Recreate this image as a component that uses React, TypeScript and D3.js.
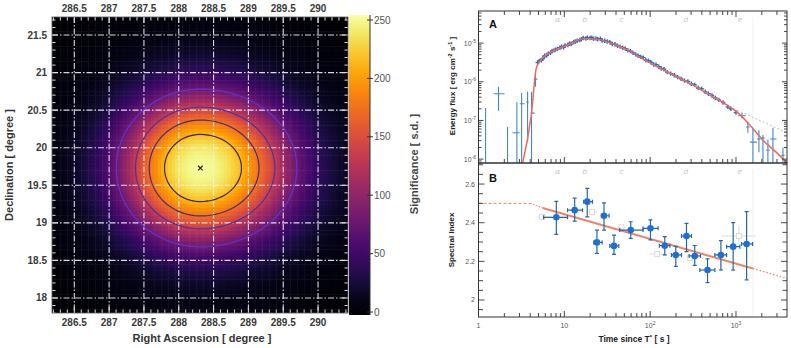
import { useEffect, useRef } from "react";
import * as d3 from "d3";

const FONT = '"Liberation Sans", Arial, Helvetica, sans-serif';

// ---- significance map ----
const raTicks = [286.5, 287, 287.5, 288, 288.5, 289, 289.5, 290];
const decTicks = [18, 18.5, 19, 19.5, 20, 20.5, 21, 21.5];
const sigTicks = [0, 50, 100, 150, 200, 250];
const peakRa = 288.31;
const peakDec = 19.73;
// radial significance profile: distance from peak [deg] -> s.d.
const profileR = [0, 0.1, 0.2, 0.3, 0.4, 0.5, 0.6, 0.7, 0.8, 0.9, 1.0, 1.1, 1.2, 1.3, 1.4, 1.5, 1.6, 1.7, 1.8, 2.0, 2.2, 2.5, 3.0];
const profileSig = [252, 250, 245, 236, 222, 203, 183, 162, 138, 110, 88, 68, 52, 40, 30, 22, 16, 12, 9, 6, 4, 2, 1];
const contourLevels = [78, 135, 175, 213];

// ---- light curve (panel A) ----
// [time, flux]
const denseFlux: [number, number][] = [
  [4.9, 3.16e-6], [5.1, 3.47e-6], [5.4, 3.6e-6], [5.6, 4.0e-6], [5.9, 4.7e-6], [6.2, 4.8e-6],
  [6.5, 5.4e-6], [6.9, 5.6e-6], [7.2, 6.3e-6], [7.6, 6.5e-6], [7.9, 6.8e-6], [8.3, 7.1e-6],
  [8.9, 7.6e-6], [9.3, 8.1e-6], [9.8, 7.8e-6], [10.2, 8.7e-6], [11.0, 8.9e-6], [11.5, 9.8e-6],
  [12.0, 9.5e-6], [12.9, 1.07e-5], [13.5, 1.1e-5], [14.1, 1.15e-5], [15.1, 1.2e-5], [15.8, 1.26e-5],
  [16.6, 1.35e-5], [17.8, 1.32e-5], [18.6, 1.38e-5], [20.0, 1.35e-5], [20.9, 1.38e-5], [21.9, 1.29e-5],
  [23.4, 1.32e-5], [24.5, 1.26e-5], [26.3, 1.29e-5], [27.5, 1.17e-5], [29.5, 1.15e-5], [31.6, 1.1e-5],
  [33.9, 1.05e-5], [36.3, 9.5e-6], [38.9, 9.3e-6], [41.7, 8.5e-6], [44.7, 8.1e-6], [47.9, 7.6e-6],
  [51.3, 7.2e-6], [55.0, 6.5e-6], [58.9, 6.2e-6], [63.1, 5.6e-6], [67.6, 5.1e-6], [72.4, 4.7e-6],
  [77.6, 4.4e-6], [83.2, 4.2e-6], [89.1, 3.6e-6], [95.5, 3.5e-6], [102, 3.2e-6], [110, 2.8e-6],
  [117, 2.75e-6], [126, 2.45e-6], [135, 2.2e-6], [145, 2.1e-6], [158, 1.78e-6], [174, 1.62e-6],
  [191, 1.48e-6], [209, 1.32e-6], [229, 1.2e-6], [251, 1.07e-6], [275, 1.02e-6], [302, 8.9e-7],
  [331, 8.3e-7], [363, 6.9e-7], [398, 6.6e-7], [437, 5.5e-7], [479, 4.9e-7], [525, 4.4e-7],
  [575, 3.8e-7], [631, 3.4e-7], [708, 2.9e-7], [804, 2.24e-7], [871, 2.0e-7], [1000, 1.6e-7],
];
// [time, flux, fluxLo, fluxHi, timeLo, timeHi]
const earlyFlux = [
  [1.21, 1e-9, 1e-9, 2.1e-7, 1.21, 1.21],
  [1.71, 4.9e-7, 1.78e-7, 7.4e-7, 1.5, 2.01],
  [2.18, 1e-9, 1e-9, 6.8e-8, 2.18, 2.18],
  [2.8, 4.8e-8, 1e-9, 3.0e-7, 2.49, 3.01],
  [3.18, 2.7e-7, 1e-9, 5.1e-7, 3.01, 3.44],
  [3.73, 3.0e-7, 2.75e-8, 5.5e-7, 3.6, 3.85],
  [4.15, 1.55e-7, 1e-9, 5.5e-7, 4.05, 4.5],
  [4.62, 1.17e-6, 7.4e-7, 1.48e-6, 4.62, 4.62],
];
const lateFlux = [
  [1172, 1.32e-7, 1.12e-7, 1.55e-7, 1060, 1300],
  [1376, 6.8e-8, 4.8e-8, 9.1e-8, 1376, 1376],
  [1575, 2.75e-8, 1e-9, 6.5e-8, 1450, 1750],
  [1850, 3.3e-8, 1.5e-8, 5.6e-8, 1850, 1850],
  [2060, 3.5e-8, 1e-9, 4.2e-8, 2060, 2060],
  [2355, 1.7e-8, 1e-9, 3.2e-8, 2355, 2355],
  [2695, 3.3e-8, 1e-9, 6.5e-8, 2500, 2960],
  [3525, 1.26e-8, 1e-9, 2.0e-8, 3525, 3525],
];
const modelT = [3.26, 4.12, 4.71, 5.15, 6.73, 9.55, 12.5, 16.4, 19.7, 25.8, 33.8, 53.3, 82, 129, 204, 314, 495, 783, 1024, 1452, 2060, 3000, 3927];
const modelF = [7.9e-9, 1.38e-7, 2.24e-6, 3.31e-6, 5.62e-6, 7.94e-6, 1.02e-5, 1.29e-5, 1.29e-5, 1.23e-5, 1.02e-5, 6.76e-6, 3.89e-6, 2.29e-6, 1.35e-6, 8.3e-7, 4.57e-7, 2.51e-7, 1.66e-7, 7.59e-8, 3.09e-8, 1.45e-8, 7.9e-9];
const powerLawT = [849, 3927];
const powerLawF = [2.24e-7, 4.8e-8];

// ---- spectral index (panel B) ----
// [time, index, indexLo, indexHi, timeLo, timeHi]
const indexPts = [
  [8.07, 2.428, 2.34, 2.51, 5.73, 10.9],
  [13.2, 2.465, 2.408, 2.527, 10.9, 16.3],
  [18.5, 2.509, 2.43, 2.578, 16.8, 21.3],
  [24, 2.298, 2.241, 2.362, 22.0, 27.6],
  [29, 2.436, 2.362, 2.503, 27.0, 33.2],
  [37.9, 2.28, 2.236, 2.336, 33.8, 43.1],
  [59.4, 2.362, 2.319, 2.405, 44.2, 82.6],
  [100.8, 2.371, 2.311, 2.415, 82.6, 123.7],
  [148, 2.281, 2.233, 2.328, 128, 170],
  [199, 2.233, 2.174, 2.277, 177, 232],
  [265, 2.331, 2.25, 2.397, 232, 303],
  [331, 2.228, 2.179, 2.282, 284, 386],
  [466, 2.155, 2.09, 2.213, 379, 567],
  [667, 2.233, 2.155, 2.307, 567, 777],
  [927, 2.276, 2.155, 2.4, 777, 1110],
  [1330, 2.29, 2.104, 2.457, 1160, 1563],
];
const indexFaint = [
  [5.5, 2.43, 2.415, 2.445, 4.9, 7.0],
  [21, 2.455, 2.44, 2.47, 19, 24],
  [46.2, 2.376, 2.36, 2.39, 42, 51],
  [121, 2.238, 2.238, 2.238, 99, 148],
  [290, 2.217, 2.2, 2.235, 290, 290],
  [1081, 2.331, 2.293, 2.386, 680, 1700],
];
const indexModelT = [1, 4, 5.6, 1575, 4000];
const indexModelV = [2.5, 2.5, 2.476, 2.163, 2.111];

const phaseT = [8.3, 17.3, 46.5, 260, 1110];
const phaseNames = ["a", "b", "c", "d", "e"];
const phaseEdgeT = 1575;

const fluxLabels = [-5, -6, -7, -8];
const indexLabels = [2, 2.2, 2.4, 2.6];
const timeLabels = [1, 10, 100, 1000];

type Sel = d3.Selection<SVGSVGElement, unknown, null, undefined>;

function drawMap(svg: Sel) {
  const L = 52, R = 348, T = 17, B = 313;
  const x = d3.scaleLinear().domain([286.18, 290.43]).range([L, R]);
  const y = d3.scaleLinear().domain([17.8, 21.74]).range([B, T]);
  const color = d3.scaleSequential(d3.interpolateInferno).domain([0, 255]);
  const sig = d3.scaleLinear().domain(profileR).range(profileSig).clamp(true);

  // pixel grid, 0.05 deg bins
  const step = 0.05, ra0 = 286.15, dec0 = 21.75, nx = 86, ny = 80;
  const grid: number[] = [];
  for (let j = 0; j < ny; j++) {
    for (let i = 0; i < nx; i++) {
      const dra = ra0 + (i + 0.5) * step - peakRa;
      const dx = dra / (dra < 0 ? 1.15 : 1.32);
      const dy = dec0 - (j + 0.5) * step - peakDec;
      grid.push(sig(Math.hypot(dx, dy)));
    }
  }

  const defs = svg.append("defs");
  defs.append("clipPath").attr("id", "mapClip")
    .append("rect").attr("x", L).attr("y", T).attr("width", R - L).attr("height", B - T);

  const g = svg.append("g").attr("clip-path", "url(#mapClip)");
  const cw = x(ra0 + step) - x(ra0);
  const ch = y(dec0 - step) - y(dec0);
  g.selectAll("rect.px").data(grid).join("rect")
    .attr("class", "px")
    .attr("x", (_d, k) => x(ra0 + (k % nx) * step))
    .attr("y", (_d, k) => y(dec0 - Math.floor(k / nx) * step))
    .attr("width", cw + 0.5)
    .attr("height", ch + 0.5)
    .attr("fill", (d) => color(d));

  // grid lines
  g.selectAll("line.gx").data(raTicks).join("line")
    .attr("x1", (d) => x(d)).attr("x2", (d) => x(d)).attr("y1", T).attr("y2", B);
  g.selectAll("line.gy").data(decTicks).join("line")
    .attr("y1", (d) => y(d)).attr("y2", (d) => y(d)).attr("x1", L).attr("x2", R);
  g.selectAll("line").attr("stroke", "#f2f2f2").attr("stroke-width", 1.1)
    .attr("stroke-dasharray", "6,2,1.5,2").attr("opacity", 0.9);

  const proj = d3.geoTransform({
    point(px: number, py: number) {
      this.stream.point(x(ra0 + px * step), y(dec0 - py * step));
    },
  });
  const path = d3.geoPath(proj);
  const cs = d3.contours().size([nx, ny]).thresholds(contourLevels)(grid);
  const cColors = ["#5a36d4", "#4a33a0", "#41307a", "#342a58"];
  g.selectAll("path.c").data(cs).join("path")
    .attr("d", path as any)
    .attr("fill", "none")
    .attr("stroke", (_d, i) => cColors[i])
    .attr("stroke-width", 1.2);

  // peak position
  g.append("path")
    .attr("transform", `translate(${x(peakRa)},${y(peakDec)})`)
    .attr("d", "M-2.3,-2.3L2.3,2.3M-2.3,2.3L2.3,-2.3")
    .attr("stroke", "#222").attr("stroke-width", 1.2);

  // ticks
  const raMinor = d3.range(2862, 2905).map((v) => v / 10);
  const decMinor = d3.range(178, 218).map((v) => v / 10);
  const isMajor = (v: number) => Math.abs(v * 2 - Math.round(v * 2)) < 1e-6;
  const tk = svg.append("g").attr("stroke", "#dcdcdc").attr("stroke-width", 1);
  raMinor.forEach((v) => {
    const len = isMajor(v) ? 6 : 3.5;
    tk.append("line").attr("x1", x(v)).attr("x2", x(v)).attr("y1", T).attr("y2", T + len);
    tk.append("line").attr("x1", x(v)).attr("x2", x(v)).attr("y1", B).attr("y2", B - len);
  });
  decMinor.forEach((v) => {
    const len = isMajor(v) ? 6 : 3.5;
    tk.append("line").attr("y1", y(v)).attr("y2", y(v)).attr("x1", L).attr("x2", L + len);
    tk.append("line").attr("y1", y(v)).attr("y2", y(v)).attr("x1", R).attr("x2", R - len);
  });

  svg.append("rect").attr("x", L).attr("y", T).attr("width", R - L).attr("height", B - T)
    .attr("fill", "none").attr("stroke", "#555").attr("stroke-width", 0.8);

  const lab = svg.append("g").style("font-family", FONT).style("font-size", "10px")
    .style("font-weight", "bold").attr("fill", "#3a3a3a");
  raTicks.forEach((v) => {
    lab.append("text").attr("x", x(v)).attr("y", 12).attr("text-anchor", "middle").text(String(v));
    lab.append("text").attr("x", x(v)).attr("y", 326).attr("text-anchor", "middle").text(String(v));
  });
  decTicks.forEach((v) => {
    lab.append("text").attr("x", 47).attr("y", y(v) + 3.5).attr("text-anchor", "end").text(String(v));
  });

  const title = svg.append("g").style("font-family", FONT).style("font-size", "11px")
    .style("font-weight", "bold").attr("fill", "#333");
  title.append("text").attr("x", 202).attr("y", 342).attr("text-anchor", "middle")
    .text("Right Ascension [ degree ]");
  title.append("text").attr("transform", "translate(13,165) rotate(-90)").attr("text-anchor", "middle")
    .text("Declination [ degree ]");
  title.append("text").attr("transform", "translate(418,164) rotate(-90)").attr("text-anchor", "middle")
    .attr("fill", "#444").text("Significance [ s.d. ]");

  // colour bar
  const cy = d3.scaleLinear().domain([0, 250]).range([312, 20]);
  const cbTop = 15, cbBot = 315;
  const grad = defs.append("linearGradient").attr("id", "cbar")
    .attr("x1", 0).attr("y1", 1).attr("x2", 0).attr("y2", 0);
  d3.range(0, 1.0001, 0.05).forEach((t) => {
    grad.append("stop").attr("offset", t)
      .attr("stop-color", color(Math.max(0, cy.invert(cbBot - t * (cbBot - cbTop)))));
  });
  svg.append("rect").attr("x", 349).attr("y", cbTop).attr("width", 21).attr("height", cbBot - cbTop)
    .attr("fill", "url(#cbar)");
  svg.append("line").attr("x1", 370).attr("x2", 370).attr("y1", cbTop).attr("y2", cbBot)
    .attr("stroke", "#333").attr("stroke-width", 1);
  const cb = svg.append("g").style("font-family", FONT).style("font-size", "10px").attr("fill", "#555");
  sigTicks.forEach((v) => {
    svg.append("line").attr("x1", 367).attr("x2", 373).attr("y1", cy(v)).attr("y2", cy(v))
      .attr("stroke", "#333").attr("stroke-width", 1);
    cb.append("text").attr("x", 374).attr("y", cy(v) + 3.5).text(String(v));
  });
}

function expLabel(sel: d3.Selection<SVGTextElement, unknown, null, undefined>, base: string, exp: string) {
  sel.append("tspan").text(base);
  sel.append("tspan").attr("dy", -3).style("font-size", "5px").text(exp);
}

function drawCurves(svg: Sel) {
  const L = 478.5, R = 787, AT = 11, AB = 163, BT = 163, BB = 317;
  const tx = d3.scaleLog().domain([1, 3930]).range([L, R]);
  const fy = d3.scaleLog().domain([7.94e-9, 6.76e-5]).range([AB, AT]);
  const iy = d3.scaleLinear().domain([1.912, 2.709]).range([BB, BT]);

  const defs = svg.append("defs");
  defs.append("clipPath").attr("id", "clipA")
    .append("rect").attr("x", L).attr("y", AT).attr("width", R - L).attr("height", AB - AT);
  defs.append("clipPath").attr("id", "clipB")
    .append("rect").attr("x", L).attr("y", BT).attr("width", R - L).attr("height", BB - BT);

  const gA = svg.append("g").attr("clip-path", "url(#clipA)");
  const gB = svg.append("g").attr("clip-path", "url(#clipB)");

  // phase boundary and labels
  [gA, gB].forEach((g, k) => {
    const top = k === 0 ? AT : BT;
    const bot = k === 0 ? AB : BB;
    g.append("line").attr("x1", tx(phaseEdgeT)).attr("x2", tx(phaseEdgeT))
      .attr("y1", top + 6).attr("y2", bot).attr("stroke", "#efefef").attr("stroke-width", 0.8);
    phaseT.forEach((t, i) => {
      g.append("text").attr("x", tx(t)).attr("y", top + 11).attr("text-anchor", "middle")
        .style("font-family", FONT).style("font-size", "8px").style("font-style", "italic")
        .attr("fill", "#c4c4c4").text(phaseNames[i]);
    });
  });

  // power-law extrapolation
  gA.append("path")
    .attr("d", d3.line<number>().x((t) => tx(t)).y((_t, i) => fy(powerLawF[i]))(powerLawT))
    .attr("fill", "none").attr("stroke", "#bdbdbd").attr("stroke-width", 1).attr("stroke-dasharray", "2,2");

  // flux points
  gA.selectAll("path.dp").data(denseFlux).join("path")
    .attr("transform", (d) => `translate(${tx(d[0])},${fy(d[1])})`)
    .attr("d", "M-2.2,0H2.2M0,-2.2V2.2")
    .attr("stroke", "#2a6ec4").attr("stroke-width", 1.4);

  const errFlux = (rows: number[][]) => {
    rows.forEach(([t, f, lo, hi, t0, t1]) => {
      const cx = tx(t);
      gA.append("line").attr("x1", cx).attr("x2", cx).attr("y1", fy(lo)).attr("y2", fy(hi));
      if (t1 > t0) {
        gA.append("line").attr("x1", tx(t0)).attr("x2", tx(t1)).attr("y1", fy(f)).attr("y2", fy(f));
      } else {
        gA.append("line").attr("x1", cx - 1.8).attr("x2", cx + 1.8).attr("y1", fy(f)).attr("y2", fy(f));
      }
    });
  };
  const errStart = gA.selectAll("line").size();
  errFlux(earlyFlux);
  errFlux(lateFlux);
  gA.selectAll("line").filter((_d, i) => i >= errStart)
    .attr("stroke", "#3f88cc").attr("stroke-width", 1.1);

  // model
  gA.append("path")
    .attr("d", d3.line<number>().x((t) => tx(t)).y((_t, i) => fy(modelF[i])).curve(d3.curveMonotoneX)(modelT))
    .attr("fill", "none").attr("stroke", "#ee6a58").attr("stroke-width", 1.5);

  // spectral index: faint points
  indexFaint.forEach(([t, v, lo, hi, t0, t1]) => {
    const cx = tx(t), cyv = iy(v);
    gB.append("line").attr("x1", tx(t0)).attr("x2", tx(t1)).attr("y1", cyv).attr("y2", cyv)
      .attr("stroke", "#dadada").attr("stroke-width", 1);
    gB.append("line").attr("x1", cx).attr("x2", cx).attr("y1", iy(lo)).attr("y2", iy(hi))
      .attr("stroke", "#dadada").attr("stroke-width", 1);
    gB.append("rect").attr("x", cx - 2.5).attr("y", cyv - 2.5).attr("width", 5).attr("height", 5)
      .attr("fill", "#fff").attr("stroke", "#dadada").attr("stroke-width", 1);
  });

  // index model, piecewise styled
  const segDash = ["3,2", "1.5,1.5", null, "1.5,2"];
  const segWidth = [1, 1, 2, 1.3];
  for (let i = 0; i < indexModelT.length - 1; i++) {
    gB.append("line")
      .attr("x1", tx(indexModelT[i])).attr("x2", tx(indexModelT[i + 1]))
      .attr("y1", iy(indexModelV[i])).attr("y2", iy(indexModelV[i + 1]))
      .attr("stroke", "#f0826a").attr("stroke-width", segWidth[i])
      .attr("stroke-dasharray", segDash[i]);
  }

  // index points
  indexPts.forEach(([t, v, lo, hi, t0, t1]) => {
    const cx = tx(t), cyv = iy(v);
    const eb = gB.append("g").attr("stroke", "#2b679c").attr("stroke-width", 1.2);
    eb.append("line").attr("x1", tx(t0)).attr("x2", tx(t1)).attr("y1", cyv).attr("y2", cyv);
    eb.append("line").attr("x1", cx).attr("x2", cx).attr("y1", iy(lo)).attr("y2", iy(hi));
    eb.append("line").attr("x1", tx(t0)).attr("x2", tx(t0)).attr("y1", cyv - 2).attr("y2", cyv + 2);
    eb.append("line").attr("x1", tx(t1)).attr("x2", tx(t1)).attr("y1", cyv - 2).attr("y2", cyv + 2);
    eb.append("line").attr("x1", cx - 2).attr("x2", cx + 2).attr("y1", iy(lo)).attr("y2", iy(lo));
    eb.append("line").attr("x1", cx - 2).attr("x2", cx + 2).attr("y1", iy(hi)).attr("y2", iy(hi));
    gB.append("circle").attr("cx", cx).attr("cy", cyv).attr("r", 3.3).attr("fill", "#1d6fd8");
  });

  // axes
  const tTicks = d3.range(0, 4).flatMap((e) => d3.range(1, 10).map((m) => ({ v: m * 10 ** e, major: m === 1 })))
    .filter((d) => d.v <= 3930);
  const fTicks = d3.range(-9, -4).flatMap((e) => d3.range(1, 10).map((m) => ({ v: m * 10 ** e, major: m === 1 })))
    .filter((d) => d.v >= 7.94e-9 && d.v <= 6.76e-5);
  const iTicks = d3.range(39, 55).map((k) => ({ v: k * 0.05, major: k % 4 === 0 }));

  const ax = svg.append("g").attr("stroke", "#333").attr("stroke-width", 0.9);
  tTicks.forEach((d) => {
    const len = d.major ? 6 : 4;
    const px = tx(d.v);
    ax.append("line").attr("x1", px).attr("x2", px).attr("y1", AT).attr("y2", AT + len);
    ax.append("line").attr("x1", px).attr("x2", px).attr("y1", AB).attr("y2", AB - len);
    ax.append("line").attr("x1", px).attr("x2", px).attr("y1", BB).attr("y2", BB - len);
  });
  fTicks.forEach((d) => {
    const len = d.major ? 5 : 3;
    const py = fy(d.v);
    ax.append("line").attr("x1", L).attr("x2", L + len).attr("y1", py).attr("y2", py);
    ax.append("line").attr("x1", R).attr("x2", R - len).attr("y1", py).attr("y2", py);
  });
  iTicks.forEach((d) => {
    const len = d.major ? 6 : 4.5;
    const py = iy(d.v);
    ax.append("line").attr("x1", L).attr("x2", L + len).attr("y1", py).attr("y2", py);
    ax.append("line").attr("x1", R).attr("x2", R - len).attr("y1", py).attr("y2", py);
  });
  svg.append("rect").attr("x", L).attr("y", AT).attr("width", R - L).attr("height", AB - AT)
    .attr("fill", "none").attr("stroke", "#333").attr("stroke-width", 1);
  svg.append("rect").attr("x", L).attr("y", BT).attr("width", R - L).attr("height", BB - BT)
    .attr("fill", "none").attr("stroke", "#333").attr("stroke-width", 1);

  const tl = svg.append("g").style("font-family", FONT).style("font-size", "7px").attr("fill", "#555");
  fluxLabels.forEach((e) => {
    const t = tl.append("text").attr("x", 476).attr("y", fy(10 ** e) + 2.5).attr("text-anchor", "end");
    expLabel(t, "10", `-${-e}`);
  });
  indexLabels.forEach((v) => {
    tl.append("text").attr("x", 475).attr("y", iy(v) + 2.5).attr("text-anchor", "end").text(String(v));
  });
  timeLabels.forEach((v) => {
    const t = tl.append("text").attr("x", tx(v)).attr("y", 328).attr("text-anchor", "middle");
    if (v < 100) t.text(String(v));
    else expLabel(t, "10", String(Math.round(Math.log10(v))));
  });

  const pl = svg.append("g").style("font-family", FONT).style("font-weight", "bold").attr("fill", "#111");
  pl.append("text").attr("x", 489).attr("y", 28).style("font-size", "11px").text("A");
  pl.append("text").attr("x", 489).attr("y", 182).style("font-size", "11px").text("B");

  const at = svg.append("g").style("font-family", FONT).style("font-weight", "bold")
    .style("font-size", "8px").attr("fill", "#222");
  const ey = at.append("text").attr("transform", "translate(455,86) rotate(-90)").attr("text-anchor", "middle");
  ey.append("tspan").text("Energy flux [ erg cm");
  ey.append("tspan").attr("dy", -3).style("font-size", "5.5px").text("-2");
  ey.append("tspan").attr("dy", 3).text(" s");
  ey.append("tspan").attr("dy", -3).style("font-size", "5.5px").text("-1");
  ey.append("tspan").attr("dy", 3).text(" ]");
  at.append("text").attr("transform", "translate(454,240) rotate(-90)").attr("text-anchor", "middle")
    .text("Spectral Index");
  const xt = at.append("text").attr("x", 634).attr("y", 342).attr("text-anchor", "middle").style("font-size", "8.5px");
  xt.append("tspan").text("Time since T");
  xt.append("tspan").attr("dy", -3).style("font-size", "6px").text("*");
  xt.append("tspan").attr("dy", 3).text(" [ s ]");
}

export default function App() {
  const ref = useRef<SVGSVGElement>(null);

  useEffect(() => {
    if (!ref.current) return;
    const svg = d3.select(ref.current);
    svg.selectAll("*").remove();
    drawMap(svg);
    drawCurves(svg);
  }, []);

  return (
    <svg
      ref={ref}
      width={791}
      height={348}
      style={{ position: "absolute", left: 0, top: 0, background: "#fff" }}
    />
  );
}
